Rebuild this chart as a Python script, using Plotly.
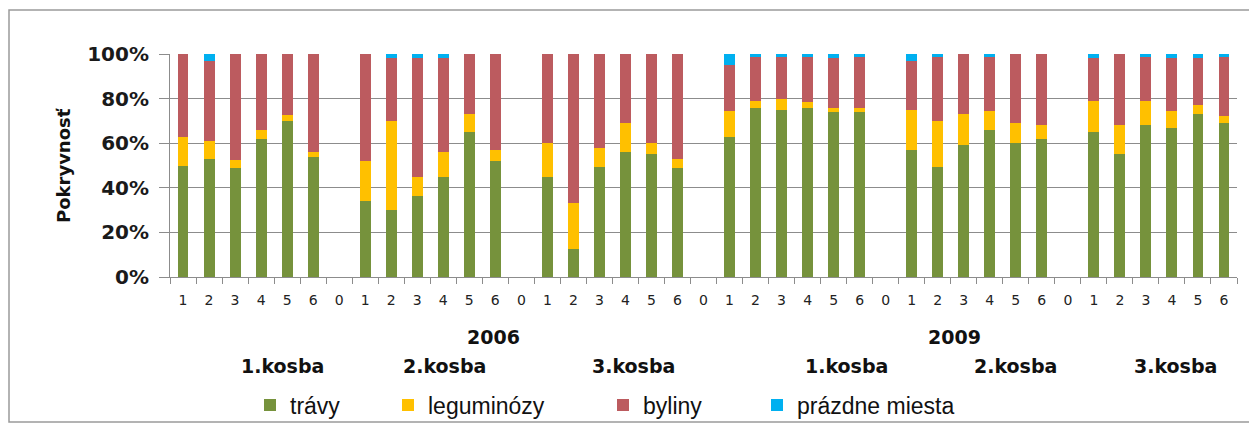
import plotly.graph_objects as go

# Category labels along the x axis: six cuts per mowing, "0" as spacer between groups
x_labels = ["1", "2", "3", "4", "5", "6", "0"] * 5 + ["1", "2", "3", "4", "5", "6"]

# Coverage shares (%) per group, spacer positions left empty
travy = [50, 53, 49, 62, 70, 54, None,
         34, 30, 36.5, 45, 65, 52, None,
         45, 12.5, 49.5, 56, 55, 49, None,
         63, 76, 75, 76, 74, 74, None,
         57, 49.5, 59, 66, 60, 62, None,
         65, 55, 68, 67, 73, 69]
leguminozy = [13, 8, 3.5, 4, 2.5, 2, None,
              18, 40, 8.5, 11, 8, 5, None,
              15, 20.5, 8.5, 13, 5, 4, None,
              11.5, 3, 5, 2.5, 2, 2, None,
              18, 20.5, 14, 8.5, 9, 6, None,
              14, 13, 11, 7.5, 4, 3]
byliny = [37, 36, 47.5, 34, 27.5, 44, None,
          48, 28, 53, 42, 27, 43, None,
          40, 67, 42, 31, 40, 47, None,
          20.5, 19.5, 18.5, 20, 22, 22.5, None,
          22, 28.5, 27, 24, 31, 32, None,
          19, 32, 19.5, 23.5, 21, 26.5]
prazdne = [0, 3, 0, 0, 0, 0, None,
           0, 2, 2, 2, 0, 0, None,
           0, 0, 0, 0, 0, 0, None,
           5, 1.5, 1.5, 1.5, 2, 1.5, None,
           3, 1.5, 0, 1.5, 0, 0, None,
           2, 0, 1.5, 2, 2, 1.5]

series_names = ["trávy", "leguminózy", "byliny", "prázdne miesta"]
series_values = [travy, leguminozy, byliny, prazdne]
series_colors = ["#76923C", "#FFC000", "#BC5B5F", "#00B0F0"]

y_ticks = [0, 20, 40, 60, 80, 100]
y_ticktext = ["0%", "20%", "40%", "60%", "80%", "100%"]

year_labels = ["2006", "2009"]
mowing_labels = ["1.kosba", "2.kosba", "3.kosba", "1.kosba", "2.kosba", "3.kosba"]

W, H = 1249, 425
L, R, T, B = 170, 12, 54, 148
PW, PH = W - L - R, H - T - B


def px_x(p):
    return (p - L) / PW


def px_y(p):
    return (H - B - p) / PH


x_pos = list(range(len(x_labels)))

fig = go.Figure()
legend_ids = ["legend", "legend2", "legend3", "legend4"]
for name, vals, col, lg in zip(series_names, series_values, series_colors, legend_ids):
    fig.add_trace(go.Bar(
        x=x_pos, y=vals, name=name, marker=dict(color=col, line=dict(width=0)),
        legend=lg,
    ))

font_main = "DejaVu Sans"

fig.update_layout(
    width=W, height=H,
    margin=dict(l=L, r=R, t=T, b=B, autoexpand=False),
    paper_bgcolor="white", plot_bgcolor="white",
    barmode="stack", bargap=0.58,
    showlegend=True,
    xaxis=dict(
        range=[-0.5, len(x_labels) - 0.5],
        tickmode="array", tickvals=x_pos, ticktext=x_labels,
        ticks="", ticklabelstandoff=10,
        tickfont=dict(family=font_main, size=14, color="#222222"),
        showline=True, linecolor="#8C8C8C", linewidth=1,
        showgrid=False, zeroline=False, automargin=False,
        minor=dict(tickvals=[i - 0.5 for i in range(len(x_labels) + 1)],
                   ticks="outside", ticklen=6, tickcolor="#8C8C8C", tickwidth=1,
                   showgrid=False),
    ),
    yaxis=dict(
        range=[0, 100], tickmode="array", tickvals=y_ticks, ticktext=y_ticktext,
        ticks="outside", ticklen=10, tickcolor="#8C8C8C",
        ticklabelstandoff=6,
        tickfont=dict(family=font_main, size=20, color="#1a1a1a", weight="bold"),
        showgrid=True, gridcolor="#8C8C8C", gridwidth=1,
        showline=True, linecolor="#8C8C8C", linewidth=1,
        zeroline=False, automargin=False,
    ),
)

# Separate legends placed along the bottom row
legend_px = [250, 388, 603, 757]
for lg, px in zip(legend_ids, legend_px):
    fig.update_layout({lg: dict(
        x=px / W, xref="container", xanchor="left",
        y=1 - 405 / H, yref="container", yanchor="middle",
        orientation="h", bgcolor="rgba(0,0,0,0)", borderwidth=0,
        font=dict(family="Liberation Sans", size=23, color="#111111"),
        itemclick=False, itemdoubleclick=False,
    )})

annotations = [
    dict(text="Pokryvnosť", x=px_x(63), y=px_y(165), textangle=-90,
         font=dict(family=font_main, size=18, color="#111111", weight="bold")),
    dict(text=year_labels[0], x=px_x(493), y=px_y(337),
         font=dict(family=font_main, size=19, color="#111111", weight="bold")),
    dict(text=year_labels[1], x=px_x(954), y=px_y(337),
         font=dict(family=font_main, size=19, color="#111111", weight="bold")),
]
for lbl, cx in zip(mowing_labels, [282, 445, 633, 846, 1015, 1175]):
    annotations.append(dict(text=lbl, x=px_x(cx), y=px_y(366),
                            font=dict(family=font_main, size=19, color="#111111", weight="bold")))
for a in annotations:
    a.update(xref="paper", yref="paper", showarrow=False, xanchor="center", yanchor="middle")
fig.update_layout(annotations=annotations)

# Outer frame around the chart
fig.add_shape(type="rect", xref="paper", yref="paper",
              x0=px_x(9), x1=px_x(1260), y0=px_y(422), y1=px_y(10),
              line=dict(color="#9A9A9A", width=1.5), fillcolor="rgba(0,0,0,0)", layer="below")

fig.write_html("out.html")
